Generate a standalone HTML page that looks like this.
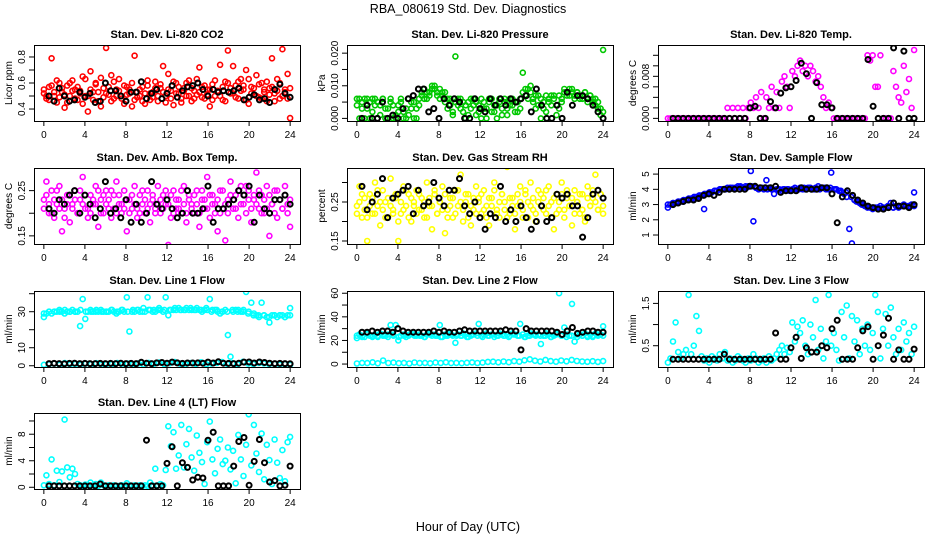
<!DOCTYPE html>
<html><head><meta charset="utf-8"><style>
html,body{margin:0;padding:0;background:#fff;}
svg{display:block;font-family:"Liberation Sans",sans-serif;}
</style></head><body>
<svg id="chart" width="936" height="540" viewBox="0 0 936 540">
<rect width="936" height="540" fill="#fff"/>
<text x="468" y="13" text-anchor="middle" font-size="12.5">RBA_080619  Std. Dev. Diagnostics</text>
<text x="468" y="531" text-anchor="middle" font-size="12.5">Hour of Day (UTC)</text>
</svg>
<script>
const xTicks=[0,4,8,12,16,20,24];
const titles=["Stan. Dev. Li-820 CO2","Stan. Dev. Li-820 Pressure","Stan. Dev. Li-820 Temp.","Stan. Dev. Amb. Box Temp.","Stan. Dev. Gas Stream RH","Stan. Dev. Sample Flow","Stan. Dev. Line 1 Flow","Stan. Dev. Line 2 Flow","Stan. Dev. Line 3 Flow","Stan. Dev. Line 4 (LT) Flow"];
const yTitles=["Licor ppm","kPa","degrees C","degrees C","percent","ml/min","ml/min","ml/min","ml/min","ml/min"];
const yTicks=[[0.4,0.5,0.6,0.7,0.8],[0,0.005,0.01,0.015,0.02],[0,0.002,0.004,0.006,0.008,0.01,0.012],[0.15,0.2,0.25],[0.15,0.2,0.25,0.3],[1,2,3,4,5],[0,10,20,30,40],[0,10,20,30,40,50,60],[0.5,1,1.5],[0,2,4,6,8,10]];
const yLabels=[["0.4","0.6","0.8"],["0.000","0.010","0.020"],["0.000","0.008"],["0.15","0.25"],["0.15","0.25"],["1","2","3","4","5"],["0","10","30"],["0","20","40","60"],["0.5","1.5"],["0","4","8"]];
const yLabelVals=[[0.4,0.6,0.8],[0,0.01,0.02],[0,0.008],[0.15,0.25],[0.15,0.25],[1,2,3,4,5],[0,10,30],[0,20,40,60],[0.5,1.5],[0,4,8]];
const yRanges=[[0.308,0.892],[-0.0008,0.0225],[-0.0005,0.01396],[0.132,0.30],[0.1423,0.3372],[0.41,5.4],[-0.7,41.5],[-2.5,61.9],[-0.003,1.793],[-0.26,11.2]];
const seriesColors=["#ff0000","#00c800","#ff00ff","#ff00ff","#ffff00","#0000ff","#00ffff","#00ffff","#00ffff","#00ffff"];

const co2Color=[0.52,0.48,0.57,0.79,0.50,0.45,0.60,0.53,0.41,0.58,0.50,0.62,0.55,0.47,0.54,0.65,0.50,0.38,0.69,0.53,0.60,0.46,0.42,0.56,0.87,0.51,0.66,0.48,0.55,0.63,0.50,0.44,0.57,0.52,0.42,0.81,0.49,0.55,0.46,0.52,0.58,0.47,0.53,0.61,0.50,0.56,0.73,0.45,0.67,0.54,0.43,0.60,0.52,0.48,0.56,0.50,0.62,0.46,0.54,0.51,0.72,0.57,0.48,0.55,0.42,0.59,0.50,0.53,0.74,0.47,0.61,0.85,0.52,0.73,0.58,0.48,0.63,0.55,0.70,0.44,0.57,0.51,0.66,0.49,0.60,0.53,0.46,0.56,0.79,0.52,0.63,0.48,0.86,0.55,0.67,0.33];
const co2Color2=[0.55,0.50,0.47,0.58,0.53,0.62,0.49,0.56,0.51,0.45,0.60,0.54,0.48,0.57,0.52,0.44,0.63,0.50,0.55,0.47,0.59,0.53,0.64,0.49,0.52,0.57,0.46,0.61,0.50,0.54,0.48,0.58,0.51,0.55,0.60,0.47,0.53,0.50,0.57,0.44,0.62,0.52,0.49,0.56,0.46,0.59,0.53,0.50,0.55,0.48,0.61,0.52,0.57,0.45,0.54,0.60,0.50,0.56,0.48,0.63,0.53,0.49,0.58,0.51,0.55,0.47,0.62,0.54,0.50,0.57,0.46,0.60,0.56,0.52,0.49,0.61,0.54,0.58,0.47,0.63,0.52,0.56,0.50,0.59,0.48,0.55,0.61,0.51,0.57,0.46,0.54,0.60,0.50,0.53,0.48,0.56];
const co2Black=[0.50,0.46,0.56,0.50,0.46,0.47,0.53,0.49,0.52,0.45,0.46,0.60,0.54,0.54,0.50,0.46,0.53,0.53,0.61,0.48,0.52,0.55,0.48,0.52,0.58,0.49,0.54,0.57,0.58,0.60,0.55,0.50,0.55,0.53,0.54,0.53,0.54,0.56,0.47,0.49,0.51,0.47,0.48,0.45,0.55,0.59,0.52,0.49];
const presColor=[0.006,0.000,0.005,0.006,0.003,0.000,0.006,0.004,0.005,0.001,0.006,0.000,0.003,0.005,0.000,0.001,0.004,0.006,0.002,0.000,0.006,0.003,0.005,0.000,0.004,0.007,0.006,0.008,0.007,0.009,0.010,0.008,0.009,0.007,0.008,0.003,0.006,0.001,0.019,0.004,0.006,0.002,0.000,0.005,0.003,0.006,0.001,0.004,0.000,0.005,0.003,0.006,0.002,0.004,0.000,0.005,0.003,0.006,0.001,0.004,0.006,0.002,0.005,0.003,0.014,0.007,0.009,0.010,0.006,0.003,0.007,0.000,0.005,0.002,0.006,0.004,0.007,0.001,0.003,0.006,0.009,0.008,0.007,0.009,0.006,0.008,0.007,0.006,0.008,0.005,0.007,0.006,0.004,0.003,0.001,0.021];
const presColor2=[0.004,0.006,0.003,0.000,0.006,0.005,0.002,0.006,0.000,0.004,0.006,0.003,0.000,0.006,0.004,0.000,0.002,0.005,0.000,0.003,0.001,0.005,0.000,0.003,0.006,0.008,0.009,0.006,0.008,0.010,0.009,0.007,0.006,0.008,0.005,0.006,0.004,0.002,0.005,0.006,0.003,0.005,0.004,0.001,0.006,0.004,0.005,0.002,0.006,0.003,0.000,0.005,0.006,0.002,0.004,0.006,0.001,0.005,0.003,0.006,0.004,0.005,0.002,0.006,0.008,0.009,0.006,0.008,0.005,0.007,0.004,0.006,0.003,0.007,0.005,0.007,0.006,0.004,0.007,0.005,0.008,0.007,0.009,0.008,0.007,0.008,0.006,0.007,0.008,0.006,0.007,0.005,0.006,0.005,0.003,0.002];
const presBlack=[0.000,0.004,0.000,0.000,0.005,0.000,0.001,0.000,0.003,0.006,0.007,0.009,0.009,0.002,0.003,0.000,0.006,0.004,0.006,0.005,0.000,0.000,0.006,0.003,0.002,0.006,0.004,0.006,0.004,0.006,0.005,0.006,0.007,0.002,0.009,0.004,0.000,0.000,0.004,0.000,0.008,0.004,0.007,0.007,0.006,0.004,0.002,0.000];
const tempColor=[0,0,0,0,0,0,0,0,0,0,0,0,0,0,0,0,0,0,0,0,0,0,0,0.002,0,0.002,0,0.002,0,0.002,0,0.002,0.003,0.002,0.004,0.002,0.005,0,0.004,0.002,0.006,0.002,0.005,0.002,0.007,0.008,0.006,0.002,0.009,0.008,0.010,0.011,0.009,0.010,0.008,0.010,0.009,0.007,0.008,0.006,0.004,0.002,0.003,0.002,0,0,0,0,0,0,0,0,0,0,0,0,0,0.012,0.011,0.012,0.006,0.006,0.012,0,0,0,0,0.009,0.006,0.004,0.003,0.010,0.005,0.0075,0.002,0.013];
const tempBlack=[0,0,0,0,0,0,0,0,0,0,0,0,0,0,0,0.002,0.0023,0,0,0.0032,0.002,0.0048,0.0058,0.006,0.0072,0.0105,0.0085,0,0.0068,0.0026,0.0026,0.002,0,0,0,0,0,0,0.0112,0.0023,0,0,0,0.0134,0,0.0128,0,0];
const ambColor=[0.23,0.27,0.20,0.25,0.19,0.22,0.26,0.16,0.21,0.24,0.18,0.22,0.25,0.20,0.23,0.28,0.21,0.19,0.24,0.22,0.26,0.17,0.23,0.20,0.25,0.21,0.19,0.24,0.27,0.22,0.20,0.25,0.16,0.23,0.21,0.26,0.19,0.24,0.22,0.20,0.25,0.18,0.23,0.21,0.26,0.20,0.24,0.22,0.13,0.19,0.25,0.21,0.23,0.20,0.26,0.18,0.24,0.22,0.20,0.25,0.17,0.23,0.21,0.28,0.19,0.24,0.22,0.16,0.20,0.25,0.14,0.23,0.27,0.21,0.24,0.19,0.26,0.22,0.20,0.25,0.18,0.23,0.29,0.21,0.24,0.20,0.26,0.15,0.22,0.25,0.19,0.23,0.21,0.26,0.20,0.17];
const ambColor2=[0.21,0.24,0.22,0.20,0.23,0.25,0.21,0.23,0.19,0.22,0.24,0.21,0.23,0.20,0.25,0.22,0.24,0.21,0.20,0.23,0.22,0.25,0.20,0.24,0.22,0.23,0.25,0.21,0.20,0.24,0.22,0.21,0.23,0.20,0.24,0.22,0.21,0.20,0.25,0.23,0.21,0.22,0.24,0.20,0.22,0.23,0.21,0.25,0.22,0.24,0.20,0.23,0.21,0.25,0.22,0.20,0.23,0.21,0.24,0.22,0.20,0.25,0.23,0.21,0.24,0.22,0.20,0.23,0.25,0.21,0.22,0.20,0.24,0.23,0.21,0.25,0.22,0.24,0.26,0.23,0.21,0.24,0.22,0.25,0.20,0.23,0.21,0.24,0.22,0.20,0.25,0.23,0.21,0.24,0.22,0.23];
const ambBlack=[0.21,0.20,0.23,0.22,0.24,0.25,0.20,0.24,0.22,0.19,0.21,0.27,0.20,0.21,0.19,0.23,0.18,0.22,0.18,0.20,0.27,0.22,0.21,0.23,0.21,0.19,0.20,0.25,0.20,0.20,0.21,0.26,0.18,0.21,0.21,0.22,0.23,0.25,0.24,0.26,0.18,0.24,0.21,0.20,0.23,0.23,0.24,0.22];
const rhColor=[0.24,0.29,0.21,0.26,0.15,0.27,0.22,0.30,0.24,0.19,0.28,0.25,0.21,0.31,0.23,0.26,0.15,0.22,0.29,0.24,0.27,0.20,0.25,0.28,0.23,0.26,0.21,0.30,0.24,0.18,0.27,0.22,0.25,0.29,0.17,0.23,0.26,0.21,0.28,0.24,0.32,0.20,0.25,0.27,0.19,0.23,0.29,0.26,0.22,0.28,0.24,0.19,0.26,0.30,0.23,0.21,0.27,0.25,0.34,0.22,0.26,0.18,0.24,0.29,0.21,0.27,0.25,0.30,0.23,0.20,0.28,0.24,0.26,0.22,0.29,0.25,0.18,0.27,0.23,0.30,0.21,0.26,0.24,0.19,0.28,0.25,0.22,0.27,0.20,0.29,0.24,0.26,0.32,0.23,0.27,0.22];
const rhColor2=[0.22,0.25,0.27,0.23,0.21,0.24,0.26,0.22,0.28,0.25,0.23,0.21,0.26,0.24,0.22,0.27,0.20,0.25,0.23,0.28,0.21,0.26,0.24,0.22,0.27,0.23,0.25,0.21,0.26,0.24,0.28,0.22,0.25,0.23,0.27,0.21,0.24,0.26,0.22,0.28,0.25,0.23,0.27,0.21,0.24,0.26,0.22,0.25,0.27,0.23,0.21,0.26,0.24,0.28,0.22,0.25,0.27,0.23,0.21,0.26,0.24,0.22,0.27,0.25,0.23,0.28,0.21,0.24,0.26,0.22,0.25,0.27,0.23,0.28,0.24,0.21,0.26,0.22,0.25,0.27,0.23,0.28,0.24,0.26,0.22,0.25,0.27,0.23,0.21,0.26,0.24,0.28,0.25,0.23,0.27,0.24];
const rhBlack=[0.29,0.23,0.25,0.27,0.31,0.21,0.26,0.27,0.28,0.29,0.22,0.28,0.24,0.25,0.30,0.26,0.24,0.28,0.28,0.31,0.24,0.22,0.25,0.21,0.18,0.22,0.21,0.29,0.20,0.23,0.20,0.24,0.21,0.18,0.20,0.24,0.20,0.21,0.27,0.26,0.27,0.24,0.24,0.16,0.21,0.27,0.28,0.26];
const flowColor=[2.8,3.0,3.1,3.1,3.1,3.2,3.2,3.3,3.3,3.4,3.4,3.5,3.5,3.6,2.7,3.7,3.8,3.8,3.9,3.9,4.0,4.0,4.0,4.1,4.1,4.1,4.1,4.2,4.2,4.1,4.2,4.2,5.2,1.9,4.1,4.0,4.1,4.0,4.6,4.1,4.0,3.7,4.0,4.0,3.9,4.0,4.0,3.9,4.0,4.1,4.0,4.1,4.0,4.0,4.1,4.1,4.0,4.1,4.2,4.1,4.1,4.0,4.0,5.1,4.0,4.0,3.9,3.8,3.7,3.5,1.4,0.45,3.3,3.2,3.1,3.0,2.9,2.8,2.8,2.7,2.8,2.8,2.9,2.8,2.8,2.9,3.1,2.8,2.9,2.8,2.9,3.0,2.9,2.9,3.0,3.8];
const flowBand=[3.0,3.1,3.2,3.3,3.4,3.5,3.6,3.7,3.8,3.9,4.0,4.0,4.1,4.1,4.1,4.1,4.2,4.1,4.1,4.0,4.0,4.0,4.0,4.0,4.0,4.0,4.1,4.1,4.0,4.0,4.1,4.1,4.0,3.9,3.8,3.5,3.2,3.0,2.9,2.8,2.8,2.8,2.9,2.8,2.9,2.9,2.9,2.9];
const flowBlack=[3.0,3.1,3.2,3.3,3.3,3.4,3.6,3.7,3.6,3.8,4.0,4.0,4.0,4.0,4.0,4.2,4.2,4.1,4.1,4.1,4.2,3.8,3.9,3.9,3.9,4.1,4.0,4.0,4.0,4.1,4.1,3.7,1.8,3.5,3.9,3.6,3.3,3.1,2.9,2.8,2.7,2.7,2.8,3.1,2.9,2.9,2.8,3.0];
const line1High=[27,29,30,29,30,30,31,30,29,30,30,31,30,30,22,37,26,30,31,30,30,30,31,30,30,30,31,30,29,30,31,30,38,19,30,30,31,30,30,30,38,31,30,30,31,31,30,38,28,31,31,31,32,31,31,32,31,31,31,32,31,30,31,31,37,31,31,30,29,30,31,17,5,30,31,31,30,31,41,30,35,29,28,27,35,28,27,24,28,28,27,28,28,27,28,32];
const line1Band=[29,30,30,30,31,30,30,31,30,30,31,30,30,31,30,31,30,31,31,32,31,31,32,31,31,32,31,31,32,31,31,32,30,31,30,30,31,30,30,29,28,28,28,27,28,28,27,28];
const line1Low=[0.5,0.8,1.2,0.6,1.5,0.7,1,0.5,1.2,0.8,1.4,0.6,1,0.9,1.5,0.6,1.2,0.8,1.3,0.7,1.6,1,1.8,0.8,1.4,2,1.1,0.7,1.5,1,1.9,0.8,1.2,1.6,2,1,1.4,0.8,2.2,1.2,0.9,1.5,1.3,0.8,1.1,0.6,0.9,0.5];
const line1Black=[1.2,1.3,1.2,1.1,1.3,1.4,1.2,1.3,1.2,1.2,1.3,1.2,1.3,1.2,1.4,1.2,1.3,1.2,1.9,1.4,1.2,1.6,1.8,1.4,2.0,1.6,1.3,1.5,1.5,1.6,1.4,2.0,1.5,2.2,1.4,1.3,1.2,1.4,2.0,2.1,1.5,2.1,1.8,1.4,1.2,1.3,1.2,1.1];
const line2High=[22,25,24,23,26,24,23,25,24,26,25,24,23,33,25,33,20,24,25,23,24,26,25,24,25,24,23,25,26,24,25,24,33,23,25,24,26,24,18,25,24,26,25,23,24,25,26,34,24,25,26,24,25,23,24,26,25,24,25,24,26,25,24,34,25,23,24,26,25,24,25,17,24,26,25,23,24,26,60,24,31,25,24,51,19,23,25,24,26,23,25,24,26,24,25,32];
const line2Band=[24,23,25,24,23,24,25,24,23,24,25,24,24,23,25,24,23,24,25,24,24,23,25,24,23,24,25,24,24,23,25,24,23,24,25,24,24,23,25,24,23,24,25,24,24,23,25,24];
const line2Low=[0.5,1,0.8,1.5,0.6,3,0.9,1.2,0.7,1,0.5,1.3,0.8,1,0.6,1.2,0.9,1.5,0.8,1,0.7,1.1,1.4,0.9,1.2,1.8,2,1.5,2.2,1.6,2.5,2,3.2,4,2.8,2.2,3.5,2.5,2,3,2.3,3.5,2.6,2.2,1.9,2.4,1.8,2.5];
const line2Black=[27,27,28,27,28,28,27,30,28,27,27,27,27,27,28,27,28,27,27,28,29,28,28,28,28,28,28,28,29,28,28,12,30,28,28,28,28,28,27,25,28,31,26,27,28,28,27,27];
const line3Color=[0.1,0.2,0.6,1.05,0.35,0.2,0.3,0.4,1.7,0.3,0.5,1.2,0.85,0.25,0.15,0.2,0.1,0.25,0.2,0.15,0.3,0.2,0.35,0.15,0.2,0.1,0.15,0.25,0.2,0.15,0.1,0.2,0.15,0.3,0.2,0.1,0.15,0.2,0.1,0.25,0.15,0.2,0.3,0.4,0.5,0.3,0.45,0.35,1.05,0.6,0.95,0.8,1.1,0.5,0.3,1.0,0.7,1.58,0.4,0.9,0.2,0.6,1.7,0.5,0.8,0.4,0.15,1.3,0.7,1.45,0.2,1.2,0.6,1.1,0.3,0.9,0.5,1.0,0.4,0.8,1.7,1.3,0.2,0.9,1.25,0.5,1.4,0.7,0.3,0.9,0.4,1.05,0.6,0.8,0.3,0.95];
const line3Black=[0.18,0.18,0.18,0.18,0.18,0.18,0.18,0.18,0.18,0.18,0.3,0.18,0.18,0.18,0.18,0.18,0.18,0.18,0.18,0.18,0.8,0.18,0.18,0.45,0.7,0.2,0.45,0.35,0.35,0.5,0.45,0.9,1.1,0.18,0.18,0.18,0.45,0.85,0.95,0.18,0.5,0.75,1.15,0.18,0.4,0.18,0.18,0.42];
const line4Color=[0.3,1.8,0.5,4.2,0.3,2.5,0.8,2.4,10.2,3.0,1.5,2.8,2.0,0.5,0.3,0.2,0.4,0.3,0.7,0.3,0.5,0.2,0.7,0.3,0.2,0.3,0.2,0.3,0.2,0.2,0.3,0.2,0.6,0.3,0.2,0.3,0.2,0.3,0.2,0.3,0.2,0.7,0.3,2.8,0.3,0.5,0.3,2.6,9.2,6.2,8.3,2.8,4.8,9.4,3.0,6.5,8.8,4.5,2.5,7.8,5.2,3.8,0.5,6.8,9.9,4.2,2.1,5.8,7.2,3.5,4.0,6.0,2.7,5.5,0.6,7.9,4.2,1.7,6.4,11.0,3.3,9.4,5.1,2.3,8.1,1.2,6.4,4.1,0.5,7.2,3.7,1.4,5.6,0.9,6.8,7.6];
const line4Black=[0.2,0.2,0.2,0.2,0.2,0.2,0.2,0.2,0.2,0.2,0.5,0.2,0.2,0.2,0.2,0.2,0.2,0.2,0.2,7.1,0.2,0.2,0.2,3.6,6.1,0.2,3.7,3.0,1.1,1.5,1.4,7.1,8.3,0.2,0.2,0.2,3.2,6.9,7.5,0.3,3.9,7.2,3.7,0.8,1.0,0.2,0.3,3.2];

const colorSeries=[[co2Color,co2Color2],[presColor,presColor2],[tempColor],[ambColor,ambColor2],[rhColor,rhColor2],[flowColor,flowBand],[line1High,line1Band,line1Low],[line2High,line2Band,line2Low],[line3Color],[line4Color]];
const blackSeries=[co2Black,presBlack,tempBlack,ambBlack,rhBlack,flowBlack,line1Black,line2Black,line3Black,line4Black];
const names=["co2","pressure","temp","amb-box-temp","gas-rh","sample-flow","line1-flow","line2-flow","line3-flow","line4-flow"];

const NS="http://www.w3.org/2000/svg";
const svg=document.getElementById('chart');
const colLeft=[34,347,658], rowTop=[45,168,291,413], PW=266, PH=76;
function mk(tag,attrs,parent){const e=document.createElementNS(NS,tag);for(const k in attrs)e.setAttribute(k,attrs[k]);parent.appendChild(e);return e;}

for(let p=0;p<10;p++){
  const L=colLeft[p%3], T=rowTop[Math.floor(p/3)];
  const [y0,y1]=yRanges[p];
  const xs=h=>L+(h+0.96)/25.92*PW;
  const ys=v=>T+PH-(v-y0)/(y1-y0)*PH;
  const g=mk('g',{},svg);
  
  
  const t=mk('text',{x:L+PW/2,y:T-7,'text-anchor':'middle','font-size':'11','font-weight':'bold'},g);
  t.textContent=titles[p];
  
  
  const cp=mk('clipPath',{id:'cp'+p},g);
  mk('rect',{x:L,y:T,width:PW,height:PH},cp);
  const pts=mk('g',{'clip-path':'url(#cp'+p+')',fill:'none','stroke-width':'1.6'},g);
  colorSeries[p].forEach(arr=>{
    arr.forEach((v,i)=>{
      const h=i*24/(arr.length-1);
      const c=mk('circle',{cx:xs(h).toFixed(1),cy:ys(v).toFixed(1),r:'2.5',stroke:seriesColors[p]},pts);
      
      
    });
  });
  const bk=blackSeries[p];
  bk.forEach((v,i)=>{
    const h=0.5+i*23.5/(bk.length-1);
    const c=mk('circle',{cx:xs(h).toFixed(1),cy:ys(v).toFixed(1),r:'2.5',stroke:'#000','stroke-width':'2'},pts);
    
    
  });
  const box=mk('rect',{x:L+0.5,y:T+0.5,width:PW,height:PH,fill:'none',stroke:'#000','stroke-width':'1'},g);
  
  
  const xa=mk('g',{},g);
  
  
  mk('line',{x1:xs(0),x2:xs(24),y1:T+PH+0.5,y2:T+PH+0.5,stroke:'#000'},xa);
  xTicks.forEach(v=>{
    const x=xs(v);
    mk('line',{x1:x,x2:x,y1:T+PH,y2:T+PH+5,stroke:'#000'},xa);
    const tx=mk('text',{x:x,y:T+PH+17,'text-anchor':'middle','font-size':'10'},xa);
    tx.textContent=String(v);
  });
  const ya=mk('g',{},g);
  
  
  const tk=yTicks[p];
  mk('line',{x1:L+0.5,x2:L+0.5,y1:ys(tk[0]),y2:ys(tk[tk.length-1]),stroke:'#000'},ya);
  tk.forEach(v=>{const y=ys(v);mk('line',{x1:L-5,x2:L,y1:y,y2:y,stroke:'#000'},ya);});
  yLabelVals[p].forEach((v,i)=>{
    const y=ys(v);
    const tx=mk('text',{x:0,y:0,'text-anchor':'middle','font-size':'10',transform:`translate(${L-9},${y}) rotate(-90)`},ya);
    tx.textContent=yLabels[p][i];
  });
  const yt=mk('text',{x:0,y:0,'text-anchor':'middle','font-size':'10',transform:`translate(${L-22},${T+PH/2}) rotate(-90)`},g);
  yt.textContent=yTitles[p];
  
  
}
</script>
</body></html>
